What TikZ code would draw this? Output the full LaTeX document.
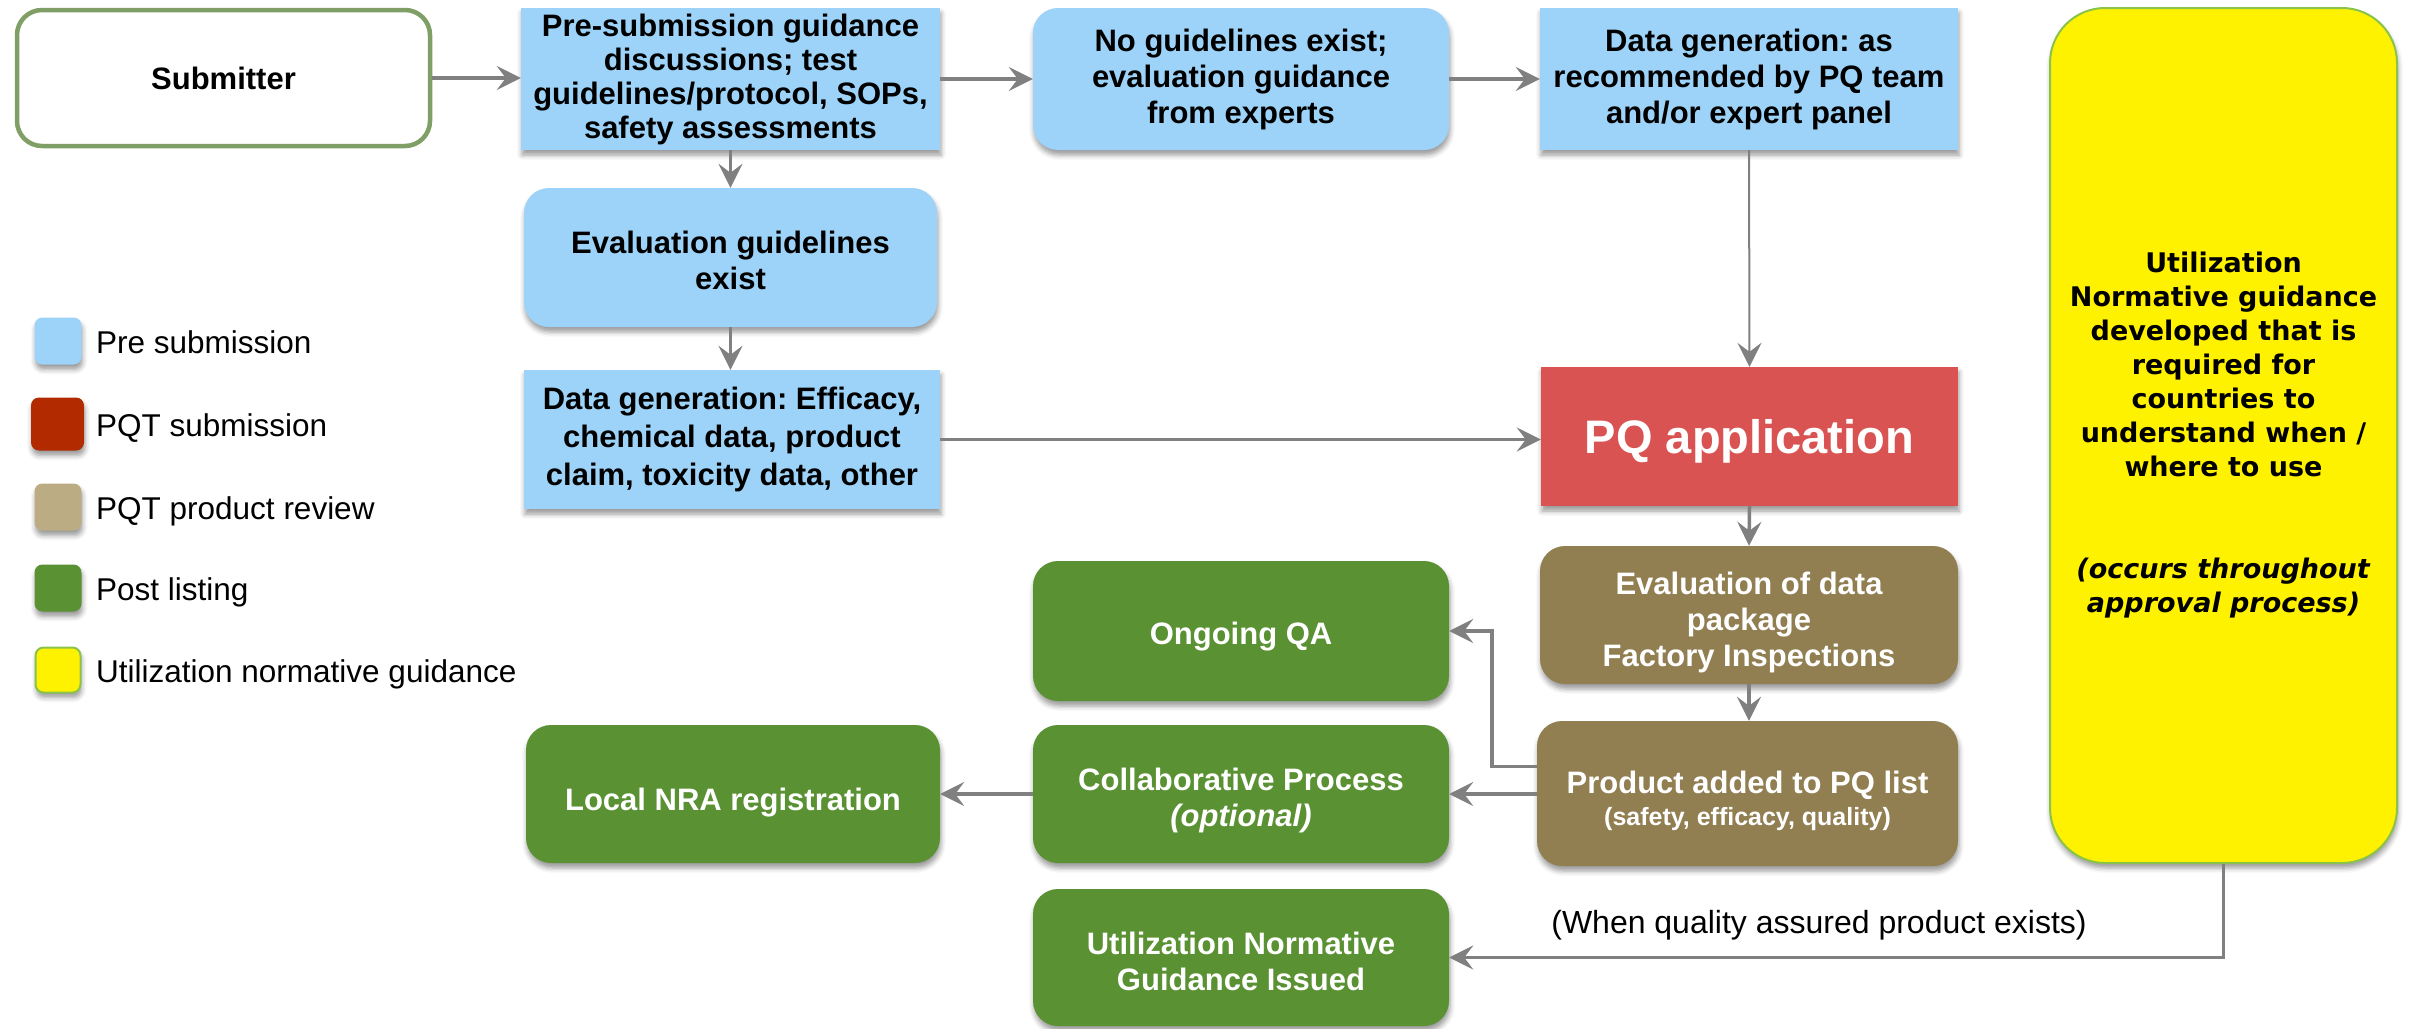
\documentclass[tikz,border=0pt]{standalone}
\usepackage{fontspec}
\setmainfont{Liberation Sans}
\newfontfamily\widefont{DejaVu Sans}
\usetikzlibrary{arrows.meta,shadows.blur}
\definecolor{pblue}{HTML}{9DD3F8}
\definecolor{pqred}{HTML}{D95352}
\definecolor{legred}{HTML}{B22A00}
\definecolor{legtan}{HTML}{BCAC84}
\definecolor{pbrown}{HTML}{917F52}
\definecolor{pgreen}{HTML}{5A9133}
\definecolor{subgreen}{HTML}{7F9F66}
\definecolor{ygreen}{HTML}{8BC34A}
\definecolor{arrowgray}{HTML}{808080}
\newcommand{\lowby}[1]{\rule{0pt}{#1pt}}
\frenchspacing
\begin{document}
\begin{tikzpicture}[x=1pt,y=-1pt,
  shad/.style={blur shadow={shadow xshift=1pt,shadow yshift=-5pt,shadow blur radius=5pt,shadow opacity=40}},
  sz/.style 2 args={minimum width=#1pt,minimum height=#2pt},
  plainbox/.style={inner sep=0pt,align=center,font=\fontsize{31}{36}\selectfont\bfseries},
  boxbase/.style={plainbox,shad},
  lowtext/.style={execute at begin node={\rule{0pt}{#1pt}}},
  bluerect/.style={boxbase,fill=pblue},
  blueround/.style={boxbase,fill=pblue,rounded corners=25pt},
  brownround/.style={boxbase,fill=pbrown,text=white,rounded corners=25pt},
  greenround/.style={boxbase,fill=pgreen,text=white,rounded corners=25pt},
  legsq/.style={inner sep=0pt,minimum size=47pt,rounded corners=8pt,shad},
  legtxt/.style={anchor=base west,inner sep=0pt,font=\fontsize{31.5}{36}\selectfont},
  conn/.style={draw=arrowgray,line width=3.5pt,-{Stealth[length=24pt,width=24pt,inset=9pt]}}
]
\useasboundingbox (0,0) rectangle (2417,1028);

% main flow boxes
\node[plainbox,draw=subgreen,line width=4.5pt,fill=white,rounded corners=25pt,sz={413}{136}] (sub) at (223.5,78) {Submitter};
\node[bluerect,sz={419}{142},font=\fontsize{31}{34}\selectfont\bfseries] (pre) at (730.5,79) {Pre-submission guidance\\discussions; test\\guidelines/protocol, SOPs,\\safety assessments};
\node[blueround,sz={416}{142}] (nog) at (1241,79) {No guidelines exist;\\evaluation guidance\\from experts};
\node[bluerect,sz={418}{142}] (dga) at (1749,79) {Data generation: as\\recommended by PQ team\\and/or expert panel};
\node[blueround,sz={413}{139}] (evg) at (730.5,257.5) {\lowby{28}Evaluation guidelines\\exist};
\node[bluerect,sz={416}{139},font=\fontsize{31}{38}\selectfont\bfseries] (dge) at (732,439.5) {Data generation: Efficacy,\\chemical data, product\\claim, toxicity data, other};
\node[boxbase,fill=pqred,text=white,sz={417}{139},text depth=0pt,font=\fontsize{47}{52}\selectfont\bfseries] (pq) at (1749.5,436.5) {PQ application};
\node[brownround,sz={418}{138}] (evd) at (1749,615) {\lowby{38}Evaluation of data\\package\\Factory Inspections};
\node[brownround,sz={421}{145}] (pal) at (1747.5,793.5) {\lowby{38}Product added to PQ list\\[-4pt]{\fontsize{25}{30}\selectfont (safety, efficacy, quality)}};
\node[greenround,sz={416}{140},lowtext=34] (oqa) at (1241,631) {Ongoing QA};
\node[greenround,sz={416}{138}] (col) at (1241,794) {\lowby{35}Collaborative Process\\\textit{(optional)}};
\node[greenround,sz={414}{138},lowtext=40] (nra) at (733,794) {Local NRA registration};
\node[greenround,sz={416}{137}] (ung) at (1241,957.5) {\lowby{31}Utilization Normative\\Guidance Issued};
\node[inner sep=0pt,align=center,fill=yellow,draw=ygreen,line width=2pt,rounded corners=55pt,sz={347}{855},shad,font=\widefont\fontsize{27}{34}\selectfont\bfseries] (yel) at (2223.5,435.5) {Utilization\\Normative guidance\\developed that is\\required for\\countries to\\understand when /\\where to use\\[68pt]\textit{(occurs throughout}\\\textit{approval process)}};

% label
\node[inner sep=0pt,font=\fontsize{32}{36}\selectfont] (whenlbl) at (1819,925) {(When quality assured product exists)};

% legend
\node[legsq,fill=pblue] (lg1) at (58,341) {};
\node[legsq,fill=legred,minimum size=53pt] (lg2) at (57.5,424) {};
\node[legsq,fill=legtan] (lg3) at (58,507) {};
\node[legsq,fill=pgreen] (lg4) at (58,588) {};
\node[legsq,fill=yellow,draw=ygreen,line width=2pt,minimum size=45pt] (lg5) at (58,670) {};
\node[legtxt] (lt1) at (96,353) {Pre submission};
\node[legtxt] (lt2) at (96,436) {PQT submission};
\node[legtxt] (lt3) at (96,519) {PQT product review};
\node[legtxt] (lt4) at (96,600) {Post listing};
\node[legtxt] (lt5) at (96,682) {Utilization normative guidance};

% connectors
\draw[conn] (sub.east) -- (sub.east -| pre.west);
\draw[conn] (pre.east) -- (nog.west);
\draw[conn] (nog.east) -- (dga.west);
\draw[conn] (pre.south) -- (evg.north);
\draw[conn] (evg.south) -- (evg.south |- dge.north);
\draw[conn] (dge.east) -- (dge.east -| pq.west);
\draw[conn,line width=2pt] (dga.south) -- (pq.north);
\draw[conn] (pq.south) -- (evd.north);
\draw[conn] (evd.south) -- (evd.south |- pal.north);
\draw[conn] ([yshift=27pt]pal.west) -- ++(-45,0) |- (oqa.east);
\draw[conn] (pal.west |- col.east) -- (col.east);
\draw[conn] (col.west) -- (nra.east);
\draw[conn] (yel.south) |- (ung.east);
\end{tikzpicture}
\end{document}
